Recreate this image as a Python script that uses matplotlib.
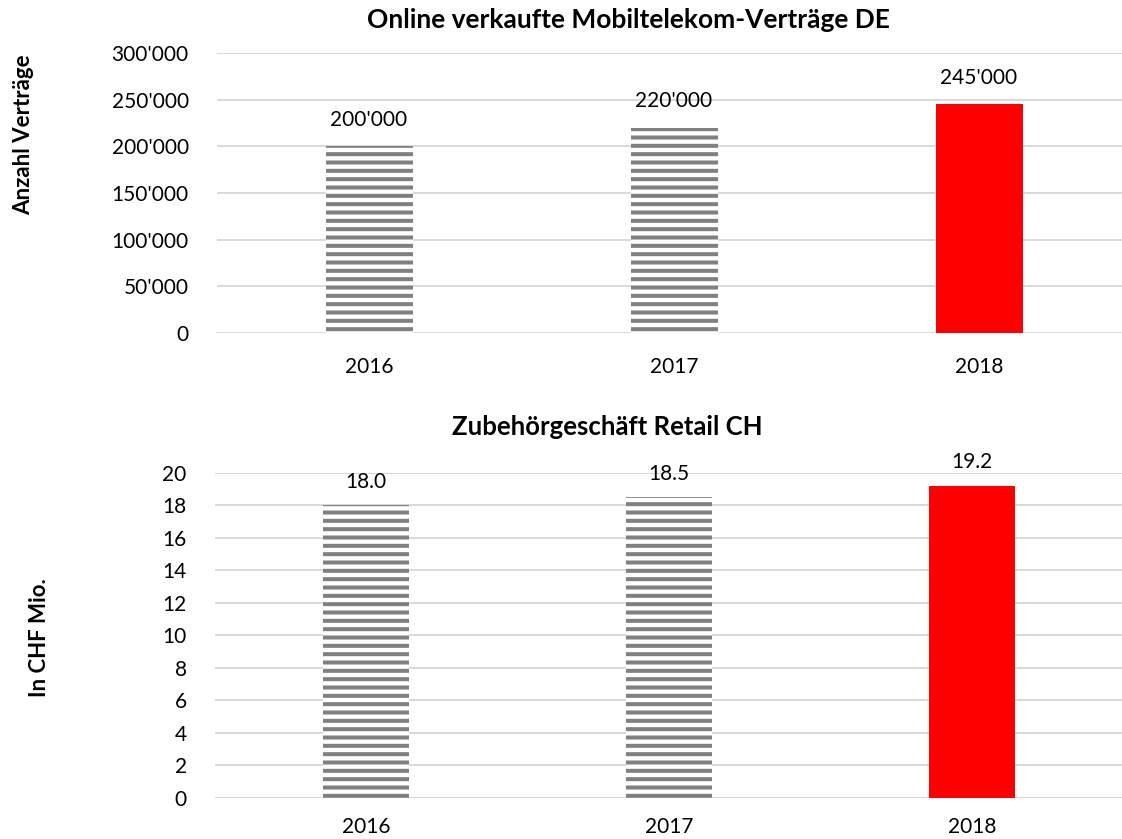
import matplotlib.pyplot as plt
from matplotlib.ticker import FuncFormatter

plt.rcParams['font.family'] = ['Lato', 'DejaVu Sans']
plt.rcParams['hatch.linewidth'] = 2.9

years = ['2016', '2017', '2018']
contracts_de = [200000, 220000, 245000]
contracts_labels = ["200'000", "220'000", "245'000"]
accessories_ch = [18.0, 18.5, 19.2]
accessories_labels = ['18.0', '18.5', '19.2']

GRAY = '#808080'
RED = '#ff0000'
GRID = '#d9d9d9'


def style_bars(ax, x, values):
    # first two years striped grey, last year solid red
    for i, v in enumerate(values):
        if i < len(values) - 1:
            ax.bar(x[i], v, width=0.285, color='white', edgecolor=GRAY,
                   linewidth=0, hatch='--', zorder=2)
        else:
            ax.bar(x[i], v, width=0.285, color=RED, linewidth=0, zorder=2)


def style_axes(ax):
    for s in ax.spines.values():
        s.set_visible(False)
    ax.grid(axis='y', color=GRID, linewidth=1.4, zorder=0)
    ax.set_axisbelow(True)
    ax.tick_params(axis='both', length=0, labelsize=15, colors='black')
    ax.set_xlim(-0.5, 2.5)


fig = plt.figure(figsize=(11.22, 8.39), dpi=100)

# top chart
ax1 = fig.add_axes([0.193, 0.6031, 0.8155, 0.3337])
x = range(len(years))
style_bars(ax1, x, contracts_de)
style_axes(ax1)
ax1.set_ylim(0, 300000)
ax1.set_yticks(range(0, 300001, 50000))
ax1.yaxis.set_major_formatter(FuncFormatter(lambda v, p: f"{int(v):,}".replace(',', "'")))
ax1.set_xticks(list(x))
ax1.set_xticklabels(years)
ax1.tick_params(axis='x', pad=17)
ax1.tick_params(axis='y', pad=20)
for i, v in enumerate(contracts_de):
    ax1.annotate(contracts_labels[i], (i, v), xytext=(0, 19), textcoords='offset points',
                 ha='center', va='center', fontsize=15)

# bottom chart
ax2 = fig.add_axes([0.1912, 0.0489, 0.810, 0.3874])
style_bars(ax2, x, accessories_ch)
style_axes(ax2)
ax2.set_ylim(0, 20)
ax2.set_yticks(range(0, 21, 2))
ax2.set_xticks(list(x))
ax2.set_xticklabels(years)
ax2.tick_params(axis='x', pad=14)
ax2.tick_params(axis='y', pad=20)
for i, v in enumerate(accessories_ch):
    ax2.annotate(accessories_labels[i], (i, v), xytext=(0, 17),
                 textcoords='offset points', ha='center', va='center', fontsize=15)

# titles and axis labels
fig.text(628 / 1122, 1 - 20 / 839, 'Online verkaufte Mobiltelekom-Verträge DE',
         ha='center', va='center', fontsize=19, fontweight='bold')
fig.text(607 / 1122, 1 - 427 / 839, 'Zubehörgeschäft Retail CH',
         ha='center', va='center', fontsize=18.5, fontweight='bold')
fig.text(24 / 1122, 1 - 135 / 839, 'Anzahl Verträge', rotation=90,
         ha='center', va='center', fontsize=16, fontweight='bold')
fig.text(40 / 1122, 1 - 638 / 839, 'In CHF Mio.', rotation=90,
         ha='center', va='center', fontsize=16, fontweight='bold')

fig.savefig('out.png', dpi=100, facecolor='white')
